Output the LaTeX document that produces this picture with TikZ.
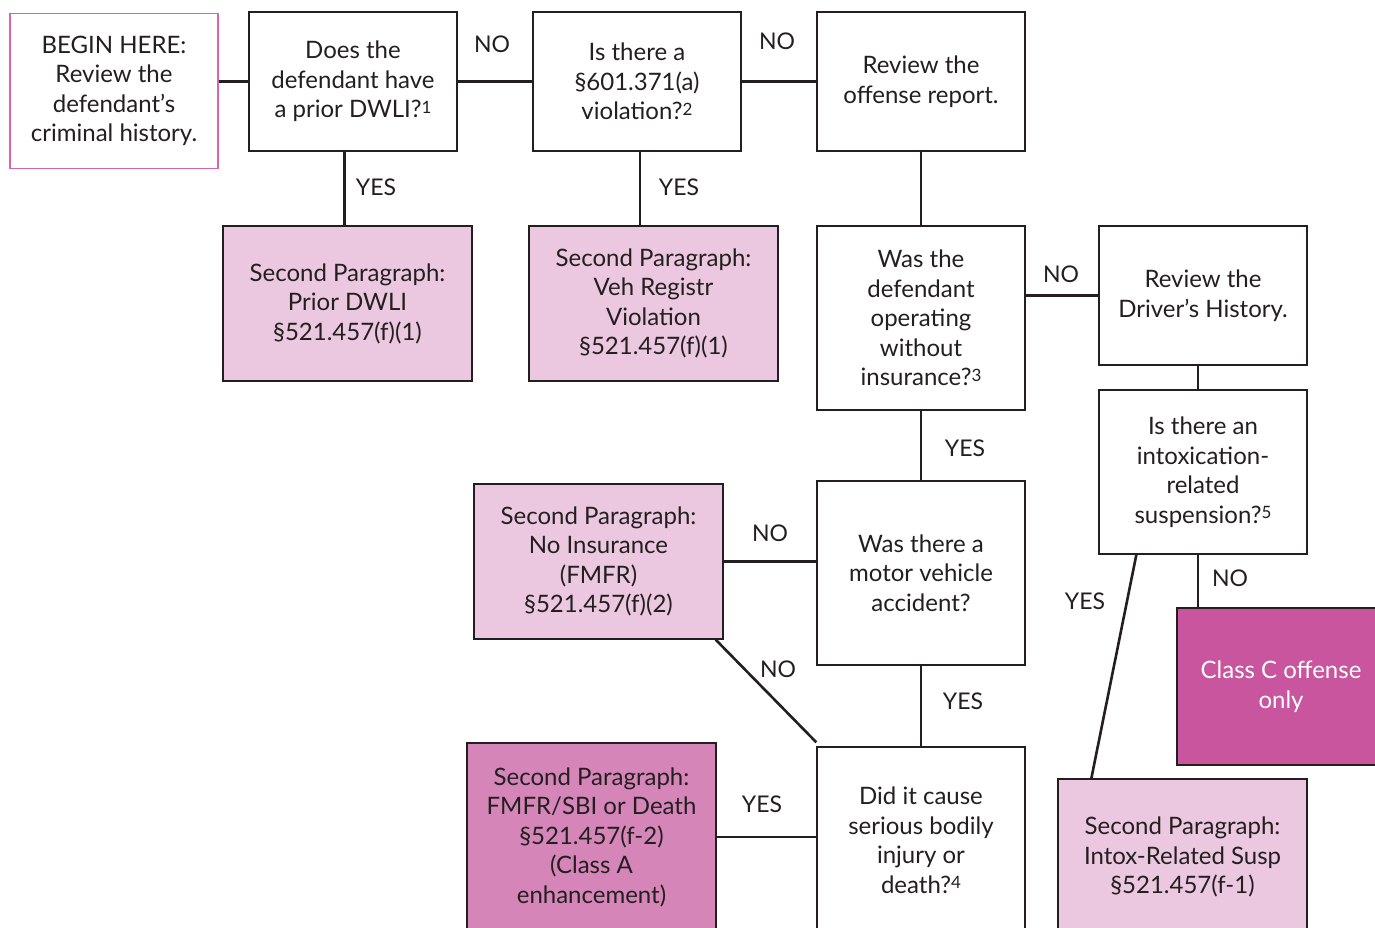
\documentclass[tikz,border=0pt]{standalone}
\usepackage{fontspec}
\setmainfont{Lato}
\definecolor{txt}{HTML}{231F20}
\definecolor{lpink}{HTML}{EBC8DF}
\definecolor{mpink}{HTML}{D585B8}
\definecolor{dpink}{HTML}{C8559D}
\definecolor{bpink}{HTML}{D566AD}
\tikzset{
  box/.style={draw=txt, line width=1.3pt, inner sep=0pt, align=center, text=txt,
    font=\fontsize{24}{29.5}\selectfont},
  lbox/.style={box, fill=lpink},
  mbox/.style={box, fill=mpink},
  dbox/.style={box, fill=dpink, text=white},
  conn/.style={draw=txt, line width=2.6pt},
  lab/.style={text=txt, font=\fontsize{23}{26}\selectfont, inner sep=0pt},
}
\newcommand{\fn}[1]{\raisebox{0.35ex}{\fontsize{17}{17}\selectfont #1}}
\begin{document}
\begin{tikzpicture}[x=1pt,y=-1pt]
\clip (0,0) rectangle (1375,928);
\fill[white] (0,0) rectangle (1375,928);

% boxes
\node[box, draw=bpink, minimum width=208, minimum height=155] (begin) at (114,91)
  {BEGIN HERE:\\Review the\\defendant’s\\criminal history.};
\node[box, minimum width=208, minimum height=139] (dwli) at (353,81.5)
  {Does the\\defendant have\\a prior DWLI?\fn{1}};
\node[box, minimum width=208, minimum height=139] (viol) at (637,81.5)
  {Is there a\\§601.371(a)\\violation?\fn{2}};
\node[box, minimum width=208, minimum height=139] (offense) at (921,81.5)
  {Review the\\offense report.};
\node[lbox, minimum width=249, minimum height=155] (prior) at (347.5,303.5)
  {Second Paragraph:\\Prior DWLI\\§521.457(f)(1)};
\node[lbox, minimum width=249, minimum height=155] (veh) at (653.5,303.5)
  {Second Paragraph:\\Veh Registr\\Violation\\§521.457(f)(1)};
\node[box, minimum width=208, minimum height=184] (insur) at (921,318)
  {Was the\\defendant\\operating\\without\\insurance?\fn{3}};
\node[box, minimum width=208, minimum height=139] (driver) at (1203,295.5)
  {Review the\\Driver’s History.};
\node[box, minimum width=208, minimum height=164] (intox) at (1203,472)
  {Is there an\\intoxication-\\related\\suspension?\fn{5}};
\node[lbox, minimum width=249, minimum height=155] (noins) at (598.5,561.5)
  {Second Paragraph:\\No Insurance\\(FMFR)\\§521.457(f)(2)};
\node[box, minimum width=208, minimum height=184] (motor) at (921,573)
  {Was there a\\motor vehicle\\accident?};
\node[mbox, minimum width=249, minimum height=188] (fmfr) at (591.5,837)
  {Second Paragraph:\\FMFR/SBI or Death\\§521.457(f-2)\\(Class A\\enhancement)};
\node[box, minimum width=208, minimum height=186] (sbi) at (921,840)
  {Did it cause\\serious bodily\\injury or\\death?\fn{4}};
\node[dbox, minimum width=208, minimum height=157] (classC) at (1281,686.5)
  {Class C offense\\only};
\node[lbox, minimum width=249, minimum height=156] (intoxres) at (1182.5,857)
  {Second Paragraph:\\Intox-Related Susp\\§521.457(f-1)};

% connectors
\draw[conn] (begin.east |- dwli.west) -- (dwli.west);
\draw[conn] (dwli.east) -- (viol.west);
\draw[conn] (viol.east) -- (offense.west);
\draw[conn] ([xshift=-3]prior.north) -- ([xshift=-3]prior.north |- dwli.south);
\draw[conn] ([xshift=3]viol.south) -- ([xshift=3]viol.south |- veh.north);
\draw[conn] (offense.south) -- (insur.north);
\draw[conn] (driver.west) -- (driver.west -| insur.east);
\draw[conn] ([xshift=-5]driver.south) -- ([xshift=-5]intox.north);
\draw[conn] (insur.south) -- (motor.north);
\draw[conn] (noins.east) -- (noins.east -| motor.west);
\draw[conn] ([xshift=-8]noins.south east) -- ([yshift=4]sbi.north west);
\draw[conn] (motor.south) -- (sbi.north);
\draw[conn] (fmfr.east) -- (fmfr.east -| sbi.west);
\draw[conn] ([xshift=-5]intox.south) -- ([xshift=-5]intox.south |- classC.north);
\draw[conn] ([xshift=38]intox.south west) -- ([xshift=34]intoxres.north west);

% labels
\node[lab] (l1) at (492,44) {NO};
\node[lab] (l2) at (777,41) {NO};
\node[lab] (l3) at (376,187) {YES};
\node[lab] (l4) at (679,187) {YES};
\node[lab] (l5) at (1061,274) {NO};
\node[lab] (l6) at (965,448) {YES};
\node[lab] (l7) at (770,533) {NO};
\node[lab] (l8) at (778,669) {NO};
\node[lab] (l9) at (963,701) {YES};
\node[lab] (l10) at (762,804) {YES};
\node[lab] (l11) at (1230,578) {NO};
\node[lab] (l12) at (1085,601) {YES};
\end{tikzpicture}
\end{document}
